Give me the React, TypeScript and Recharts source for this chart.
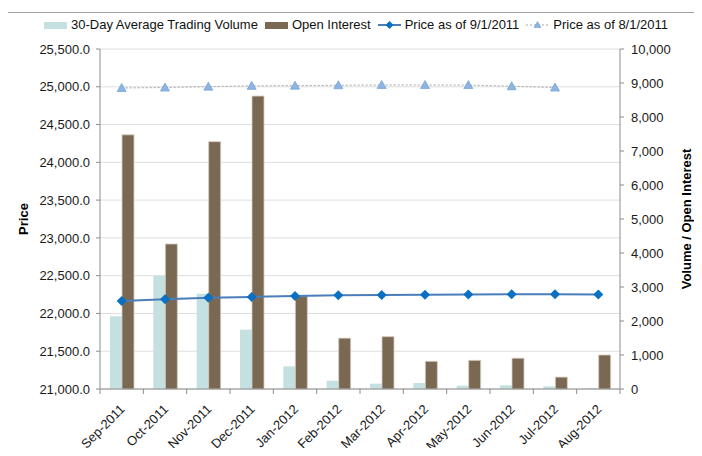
import React from 'react';
import {
  ComposedChart, Bar, Line, XAxis, YAxis, CartesianGrid, Legend,
} from 'recharts';

const months = [
  'Sep-2011', 'Oct-2011', 'Nov-2011', 'Dec-2011', 'Jan-2012', 'Feb-2012',
  'Mar-2012', 'Apr-2012', 'May-2012', 'Jun-2012', 'Jul-2012', 'Aug-2012',
];
const avgVolume = [2137, 3330, 2804, 1745, 667, 245, 157, 176, 98, 108, 78, 29];
const openInterest = [7475, 4265, 7275, 8615, 2735, 1495, 1539, 814, 843, 905, 350, 1000];
const priceSep1 = [22165, 22188, 22208, 22219, 22232, 22240, 22243, 22248, 22250, 22253, 22253, 22250];
const priceAug1: (number | null)[] = [24984, 24990, 25002, 25012, 25015, 25020, 25024, 25024, 25023, 25007, 24990, null];

const priceTicks = [21000, 21500, 22000, 22500, 23000, 23500, 24000, 24500, 25000, 25500];
const volumeTicks = [0, 1000, 2000, 3000, 4000, 5000, 6000, 7000, 8000, 9000, 10000];

// legend order as in the original
const legendOrder = ['volume', 'oi', 'p0901', 'p0801'];

const data = months.map((m, i) => ({
  month: m,
  volume: avgVolume[i],
  oi: openInterest[i],
  p0901: priceSep1[i],
  p0801: priceAug1[i],
}));

const FONT = '"Liberation Sans", Arial, sans-serif';
const AXIS = '#8c8c8c';
const TEAL = '#c4e0e0';
const BROWN = '#7a6852';
const BLUE_LINE = '#4a7ebb';
const BLUE_DOT = '#0a70c4';
const TRI_FILL = '#8db4e2';
const TRI_STROKE = '#6f9fd6';
const DOTTED = '#a6a6a6';

const fmtPrice = (v: number) => v.toLocaleString('en-US', { minimumFractionDigits: 1, maximumFractionDigits: 1 });
const fmtVol = (v: number) => v.toLocaleString('en-US');

function MonthTick(props: any) {
  const { x, y, payload, index, visibleTicksCount } = props;
  const count = visibleTicksCount || months.length;
  const band = (Number(props.width) || 520) / count;
  const tx = x + 4;
  const ty = y + 21;
  return (
    <g>
      <line x1={x - band / 2} x2={x - band / 2} y1={y} y2={y + 5} stroke={AXIS} />
      {index === count - 1 && (
        <line x1={x + band / 2} x2={x + band / 2} y1={y} y2={y + 5} stroke={AXIS} />
      )}
      <text x={tx} y={ty} transform={`rotate(-45, ${tx}, ${ty})`} textAnchor="end" fontSize={13} fill="#1a1a1a">
        {payload.value}
      </text>
    </g>
  );
}

function Diamond(p: any) {
  if (p.cy == null || p.value == null) return <g key={p.index} />;
  const { cx, cy } = p;
  return <path key={p.index} d={`M${cx},${cy - 5}L${cx + 5},${cy}L${cx},${cy + 5}L${cx - 5},${cy}Z`} fill={BLUE_DOT} />;
}

function Triangle(p: any) {
  if (p.cy == null || p.value == null) return <g key={p.index} />;
  const { cx, cy } = p;
  return <path key={p.index} d={`M${cx},${cy - 4.5}L${cx + 4.5},${cy + 3.5}L${cx - 4.5},${cy + 3.5}Z`} fill={TRI_FILL} stroke={TRI_STROKE} strokeWidth={0.7} />;
}

function LegendIcon({ k }: { k: string }) {
  if (k === 'volume') return <svg width={23} height={10}><rect x={0} y={2} width={23} height={7} fill={TEAL} /></svg>;
  if (k === 'oi') return <svg width={23} height={10}><rect x={0} y={2} width={23} height={7} fill={BROWN} /></svg>;
  if (k === 'p0901') {
    return (
      <svg width={23} height={10}>
        <line x1={0} x2={23} y1={5} y2={5} stroke={BLUE_LINE} strokeWidth={2} />
        <path d="M11.5,1L15.5,5L11.5,9L7.5,5Z" fill={BLUE_DOT} />
      </svg>
    );
  }
  return (
    <svg width={23} height={10}>
      <line x1={0} x2={23} y1={5} y2={5} stroke={DOTTED} strokeWidth={1} strokeDasharray="2 2" />
      <path d="M11.5,1.5L15,7.5L8,7.5Z" fill={TRI_FILL} stroke={TRI_STROKE} strokeWidth={0.6} />
    </svg>
  );
}

function ChartLegend({ payload }: any) {
  const items = [...((payload || []) as any[])].sort(
    (a, b) => legendOrder.indexOf(String(a.dataKey)) - legendOrder.indexOf(String(b.dataKey)),
  );
  return (
    <div style={{ display: 'flex', justifyContent: 'center', alignItems: 'center', fontSize: 13, color: '#111', fontFamily: FONT }}>
      {items.map((e, i) => (
        <div key={String(e.dataKey)} style={{ display: 'flex', alignItems: 'center', marginLeft: i === 0 ? 0 : 7 }}>
          <LegendIcon k={String(e.dataKey)} />
          <span style={{ marginLeft: 4, whiteSpace: 'nowrap' }}>{e.value}</span>
        </div>
      ))}
    </div>
  );
}

export default function App() {
  return (
    <div style={{ position: 'relative', width: 702, height: 456, margin: -8, overflow: 'hidden', background: '#fff', fontFamily: FONT }}>
      <div style={{ position: 'absolute', left: 4, top: 12, width: 720, height: 470, border: '1px solid #a3a3a3' }} />
      <ComposedChart
        width={702}
        height={456}
        data={data}
        margin={{ top: 49, right: 0, bottom: 0, left: 0 }}
        barGap={0}
        style={{ position: 'absolute', left: 0, top: 0 }}
      >
        <CartesianGrid yAxisId="left" vertical={false} stroke="#dedede" />
        <XAxis
          dataKey="month"
          height={67}
          interval={0}
          tickSize={0}
          tickMargin={0}
          tickLine={false}
          axisLine={{ stroke: AXIS }}
          tick={<MonthTick />}
        />
        <YAxis
          yAxisId="left"
          orientation="left"
          width={100}
          domain={[21000, 25500]}
          ticks={priceTicks}
          tickFormatter={fmtPrice}
          tickSize={4}
          tickMargin={6}
          axisLine={{ stroke: AXIS }}
          tickLine={{ stroke: AXIS }}
          tick={{ fontSize: 13, fill: '#1a1a1a' }}
          label={{
            content: ({ viewBox }: any) => {
              const cx = viewBox.x + 23;
              const cy = viewBox.y + viewBox.height / 2;
              return (
                <text x={cx} y={cy} transform={`rotate(-90, ${cx}, ${cy})`} textAnchor="middle" dominantBaseline="central" fontSize={13} fontWeight="bold" fill="#000">
                  Price
                </text>
              );
            },
          }}
        />
        <YAxis
          yAxisId="right"
          orientation="right"
          width={82}
          domain={[0, 10000]}
          ticks={volumeTicks}
          tickFormatter={fmtVol}
          tickSize={4}
          tickMargin={7}
          axisLine={{ stroke: AXIS }}
          tickLine={{ stroke: AXIS }}
          tick={{ fontSize: 13, fill: '#1a1a1a' }}
          label={{
            content: ({ viewBox }: any) => {
              const cx = viewBox.x + 66;
              const cy = viewBox.y + viewBox.height / 2;
              return (
                <text x={cx} y={cy} transform={`rotate(-90, ${cx}, ${cy})`} textAnchor="middle" dominantBaseline="central" fontSize={13} fontWeight="bold" fill="#000">
                  Volume / Open Interest
                </text>
              );
            },
          }}
        />
        <Legend
          verticalAlign="middle"
          layout="horizontal"
          wrapperStyle={{ top: 17, left: 5, width: 702 }}
          content={<ChartLegend />}
        />
        <Bar yAxisId="right" dataKey="volume" name="30-Day Average Trading Volume" fill={TEAL} barSize={12} isAnimationActive={false} />
        <Bar yAxisId="right" dataKey="oi" name="Open Interest" fill={BROWN} stroke="#d6cdc2" strokeWidth={0.8} barSize={12} isAnimationActive={false} />
        <Line yAxisId="left" dataKey="p0901" name="Price as of 9/1/2011" stroke={BLUE_LINE} strokeWidth={2} dot={Diamond} activeDot={false} isAnimationActive={false} />
        <Line yAxisId="left" dataKey="p0801" name="Price as of 8/1/2011" stroke={DOTTED} strokeWidth={1} strokeDasharray="2 2" dot={Triangle} activeDot={false} isAnimationActive={false} />
      </ComposedChart>
    </div>
  );
}
